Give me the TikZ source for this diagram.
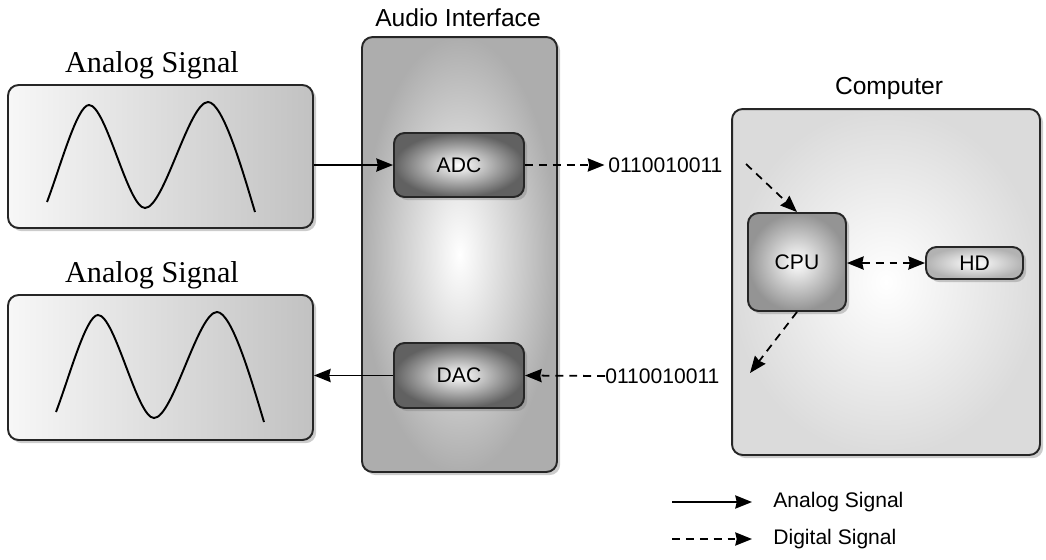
\documentclass[tikz,border=0pt]{standalone}
\usepackage{fontspec}
\setmainfont{Liberation Serif}
\setsansfont{Liberation Sans}
\usetikzlibrary{shadows,arrows.meta}

\begin{document}
\begin{tikzpicture}[x=0.02cm, y=-0.02cm, >={Stealth[length=9.5pt, width=7.5pt, inset=0.8pt]},
    panel/.style={draw=black!85, line width=1.1pt, rounded corners=6pt, inner sep=0pt,
      drop shadow={shadow xshift=1.8pt, shadow yshift=-1.8pt, opacity=0.4}},
    chip/.style={panel, shading=radial, inner color=white, outer color=black!62,
      font=\sffamily\fontsize{12}{14}\selectfont},
    title/.style={font=\rmfamily\fontsize{17.2}{20}\selectfont},
    head/.style={font=\sffamily\fontsize{14}{16}\selectfont},
    bits/.style={font=\sffamily\fontsize{12}{14}\selectfont, inner sep=0pt},
    analog/.style={line width=1pt, ->},
    digital/.style={analog, dash pattern=on 4.5pt off 3.4pt}]
  \useasboundingbox (0,0) rectangle (1046,559);

  % analog signal boxes
  \node [panel, left color=black!3, right color=black!24, minimum width=6.1cm, minimum height=2.86cm] (sigin) at (160.5, 156.5) {};
  \node [panel, left color=black!3, right color=black!24, minimum width=6.1cm, minimum height=2.9cm] (sigout) at (160.5, 367.5) {};
  \node [title] at (152, 65) {Analog Signal};
  \node [title] at (152, 275) {Analog Signal};
  \foreach \dx/\dy in {0/0, 9/210} {
    \begin{scope}[shift={(\dx,\dy)}]
      \draw [line width=1.1pt] (47,202) .. controls (60,168) and (77,105) .. (89,105)
        .. controls (106,105) and (128,208) .. (145,208)
        .. controls (164,208) and (189,102) .. (208,102)
        .. controls (223,102) and (243,172) .. (255,212);
    \end{scope}
  }

  % audio interface
  \node [panel, shading=radial, inner color=white, outer color=black!32, minimum width=3.9cm, minimum height=8.7cm] (iface) at (459.5, 254.5) {};
  \node [head] at (458, 18) {Audio Interface};
  \node [chip, minimum width=2.6cm, minimum height=1.28cm] (adc) at (459, 165) {ADC};
  \node [chip, minimum width=2.6cm, minimum height=1.3cm] (dac) at (459, 375.5) {DAC};

  % computer
  \node [panel, shading=radial, inner color=white, outer color=black!14, minimum width=6.16cm, minimum height=6.92cm] (comp) at (886, 282) {};
  \node [head] at (889, 88) {Computer};
  \node [chip, outer color=black!42, minimum width=1.96cm, minimum height=1.96cm] (cpu) at (797, 262) {CPU};
  \node [chip, outer color=black!30, minimum width=1.94cm, minimum height=0.64cm] (hd) at (974.5, 263) {HD};

  % bit streams
  \node [bits, anchor=west] (bitsa) at (608, 165) {0110010011};
  \node [bits, anchor=west] (bitsb) at (605, 376) {0110010011};
  \coordinate (cpuin) at (746, 164);
  \coordinate (cpuout) at (750, 373);

  \draw [analog] (sigin.east |- adc) -- (adc.west);
  \draw [digital] (adc.east) -- ([xshift=-2pt]bitsa.west);
  \draw [digital] (cpuin) -- (cpu.north);
  \draw [digital, <->] (cpu.east |- hd) -- (hd.west);
  \draw [digital] (cpu.south) -- (cpuout);
  \draw [digital] (bitsb.west) -- (dac.east);
  \draw [analog] (dac.west) -- (sigout.east |- dac);

  % legend
  \coordinate (leganalog) at (672, 502);
  \coordinate (legdigital) at (672, 539);
  \node [bits, anchor=west] (txtanalog) at (773, 502) {Analog Signal};
  \node [bits, anchor=west] (txtdigital) at (773, 539) {Digital Signal};
  \draw [analog] (leganalog) -- ++(80,0);
  \draw [digital] (legdigital) -- ++(80,0);
\end{tikzpicture}
\end{document}
